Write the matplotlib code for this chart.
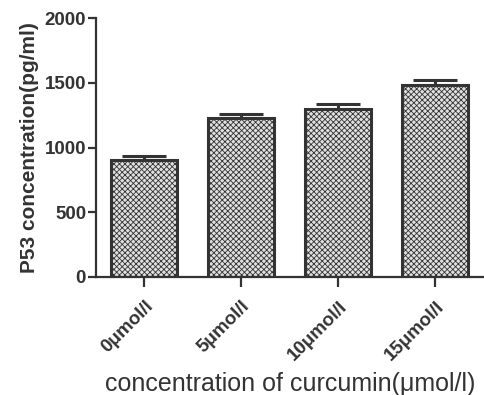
import matplotlib
matplotlib.use("Agg")
import matplotlib.pyplot as plt
import numpy as np

categories = ["0μmol/l", "5μmol/l", "10μmol/l", "15μmol/l"]
values = [903, 1228, 1300, 1480]
errors = [30, 33, 38, 41]

plt.rcParams['font.family'] = ['Liberation Sans', 'DejaVu Sans']
plt.rcParams['hatch.linewidth'] = 0.6
plt.rcParams['hatch.color'] = '#5a5a5a'

fig = plt.figure(figsize=(4.84, 3.95), dpi=100)
ax = fig.add_axes([0.198, 0.299, 0.802, 0.655])

x = np.arange(len(categories))
ax.bar(x, values, width=0.68, color='#e0e0e0', edgecolor='#333333',
       linewidth=2.2, hatch='xxxxxx', zorder=2)
ax.errorbar(x, values, yerr=[np.zeros(len(errors)), errors], fmt='none',
            ecolor='#333333', elinewidth=2.2, capsize=16, capthick=2.2, zorder=1)

ax.set_xlim(-0.5, 3.5)
ax.set_ylim(0, 2000)
ax.set_yticks([0, 500, 1000, 1500, 2000])
ax.set_xticks(x)
ax.set_xticklabels(categories, rotation=45, ha='right', rotation_mode='anchor',
                   fontsize=13.5, fontweight='bold', color='#333333')
for lab in ax.get_yticklabels():
    lab.set_fontsize(13.5)
    lab.set_fontweight('bold')
    lab.set_color('#333333')

for s in ['top', 'right']:
    ax.spines[s].set_visible(False)
for s in ['left', 'bottom']:
    ax.spines[s].set_linewidth(1.6)
    ax.spines[s].set_color('#333333')
ax.tick_params(axis='y', length=6, width=1.6, color='#333333', pad=1)
ax.tick_params(axis='x', length=7, width=1.6, color='#333333', pad=8)

ax.set_ylabel('P53 concentration(pg/ml)', fontsize=15, fontweight='bold',
              color='#333333', labelpad=4)
ax.set_xlabel('concentration of curcumin(μmol/l)', fontsize=18, color='#333333',
              labelpad=6)

fig.savefig('out.png', dpi=100)
